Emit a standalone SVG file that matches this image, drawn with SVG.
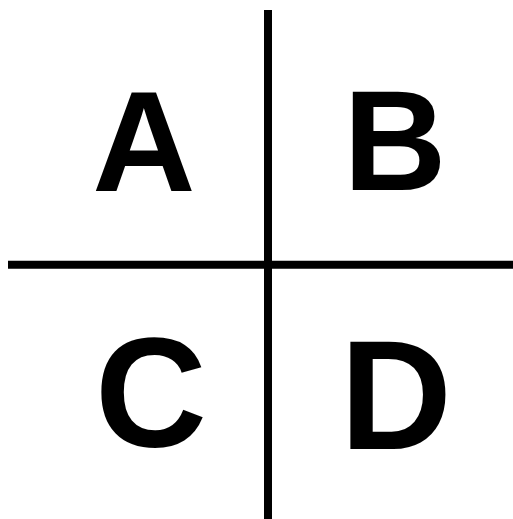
<svg xmlns="http://www.w3.org/2000/svg" width="513" height="519" viewBox="0 0 513 519">
<style>
.l{font-family:"Liberation Sans",Arial,sans-serif;font-weight:bold;fill:#000;text-anchor:middle}
.t{font-size:143px}
.b{font-size:155px}
.ln{stroke:#000;stroke-width:8;fill:none}
</style>
<rect width="513" height="519" fill="#fff"/>
<g id="connectors">
<line class="ln" x1="268" y1="10" x2="268" y2="519"/>
<line class="ln" x1="8" y1="264.7" x2="513" y2="264.7"/>
</g>
<g id="A"><text class="l t" x="144" y="191">A</text></g>
<g id="B"><text class="l t" x="395" y="190">B</text></g>
<g id="C"><text class="l b" x="151" y="446">C</text></g>
<g id="D"><text class="l b" x="396" y="449">D</text></g>
</svg>
